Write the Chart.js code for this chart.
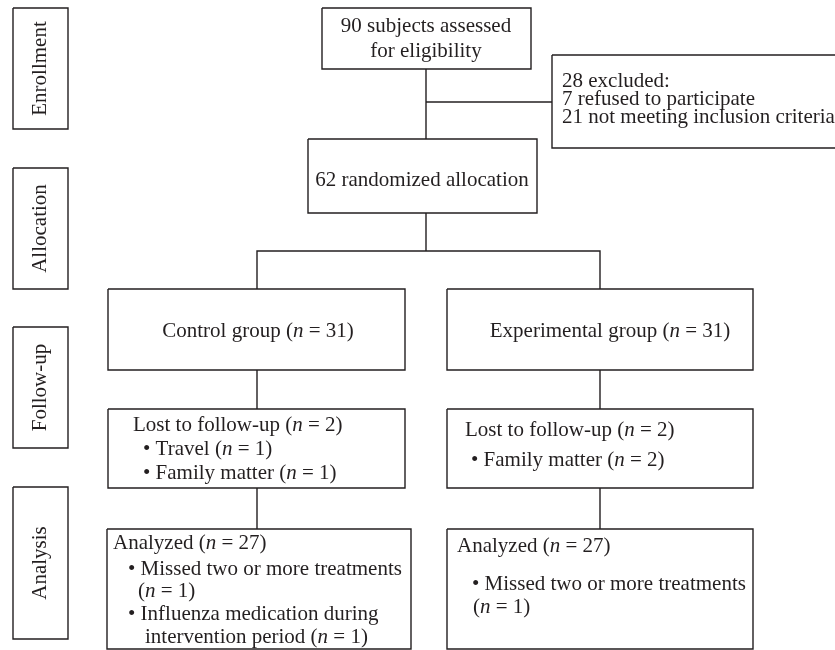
<!DOCTYPE html>
<html>
<head>
<meta charset="utf-8">
<script src="https://cdn.jsdelivr.net/npm/chart.js@4"></script>
<style>
  html, body { margin: 0; padding: 0; background: #fff; }
  #wrap { width: 835px; height: 650px; }
</style>
</head>
<body>
<div id="wrap"><canvas id="flow" width="835" height="650"></canvas></div>
<script>
// CONSORT flow: stage labels, box texts and counts
const stages = ['Enrollment', 'Allocation', 'Follow-up', 'Analysis'];
const stageSpans = [[8, 129], [168, 289], [327, 448], [487, 639]];

const enrolled = 90;
const excludedTotal = 28, refused = 7, notMeeting = 21;
const randomized = 62;
const groupNames = ['Control group', 'Experimental group'];
const groupN = [31, 31];
const lostN = [2, 2];
const analyzedN = [27, 27];

// box text (_n_ = italic)
const boxTexts = [
  [enrolled + ' subjects assessed', 'for eligibility'],
  [excludedTotal + ' excluded:', refused + ' refused to participate', notMeeting + ' not meeting inclusion criteria'],
  [randomized + ' randomized allocation'],
  [groupNames[0] + ' (_n_ = ' + groupN[0] + ')'],
  [groupNames[1] + ' (_n_ = ' + groupN[1] + ')'],
  ['Lost to follow-up (_n_ = ' + lostN[0] + ')', '\u2022 Travel (_n_ = 1)', '\u2022 Family matter (_n_ = 1)'],
  ['Lost to follow-up (_n_ = ' + lostN[1] + ')', '\u2022 Family matter (_n_ = 2)'],
  ['Analyzed (_n_ = ' + analyzedN[0] + ')', '\u2022 Missed two or more treatments', '(_n_ = 1)', '\u2022 Influenza medication during', 'intervention period (_n_ = 1)'],
  ['Analyzed (_n_ = ' + analyzedN[1] + ')', '\u2022 Missed two or more treatments', '(_n_ = 1)']
];

// layout (chart units, y downwards)
const boxRects = [
  [322, 8, 531, 69], [552, 55, 860, 148], [308, 139, 537, 213],
  [108, 289, 405, 370], [447, 289, 753, 370],
  [108, 409, 405, 488], [447, 409, 753, 488],
  [107, 529, 411, 649], [447, 529, 753, 649]
];
// text anchor per box: [align, x, line ys, indents]
const textPos = [
  ['center', 426, [26, 51]],
  ['left', 562, [81, 99, 117]],
  ['center', 422, [180]],
  ['center', 258, [331]],
  ['center', 610, [331]],
  ['left', 133, [425, 449, 473], [0, 10, 10]],
  ['left', 465, [430, 460], [0, 6]],
  ['left', 113, [543, 569, 591, 614, 637], [0, 15, 25, 15, 32]],
  ['left', 457, [546, 584, 607], [0, 15, 16]]
];
const connectors = [
  [[426, 69], [426, 139]],
  [[426, 102], [552, 102]],
  [[426, 213], [426, 251]],
  [[257, 289], [257, 251], [600, 251], [600, 289]],
  [[257, 370], [257, 409]],
  [[600, 370], [600, 409]],
  [[257, 488], [257, 529]],
  [[600, 488], [600, 529]]
];
const stageX = [13, 68];

const INK = '#231f20';
const FONT = '"Liberation Serif", "Times New Roman", serif';
const FS = 21;

function rectPts(r) {
  return [{ x: r[0], y: r[1] }, { x: r[2], y: r[1] }, { x: r[2], y: r[3] }, { x: r[0], y: r[3] }, { x: r[0], y: r[1] }];
}
const lineDs = (pts) => ({
  data: pts, showLine: true, pointRadius: 0, borderColor: INK, borderWidth: 1.4,
  fill: false, tension: 0
});

const datasets = [];
boxRects.forEach(r => datasets.push(lineDs(rectPts(r))));
stageSpans.forEach(s => datasets.push(lineDs(rectPts([stageX[0], s[0], stageX[1], s[1]]))));
connectors.forEach(c => datasets.push(lineDs(c.map(p => ({ x: p[0], y: p[1] })))));

function richParts(str) {
  return str.split('_').map((t, i) => ({ t, it: i % 2 === 1 })).filter(p => p.t.length);
}
function drawRich(ctx, str, x, y, align) {
  const parts = richParts(str);
  let w = 0;
  parts.forEach(p => { ctx.font = (p.it ? 'italic ' : '') + FS + 'px ' + FONT; p.w = ctx.measureText(p.t).width; w += p.w; });
  let cx = align === 'center' ? x - w / 2 : x;
  parts.forEach(p => {
    ctx.font = (p.it ? 'italic ' : '') + FS + 'px ' + FONT;
    ctx.fillText(p.t, cx, y);
    cx += p.w;
  });
}

const textPlugin = {
  id: 'flowText',
  afterDatasetsDraw(chart) {
    const { ctx, scales: { x, y } } = chart;
    ctx.save();
    ctx.fillStyle = INK;
    ctx.textBaseline = 'middle';
    ctx.textAlign = 'left';
    boxTexts.forEach((lines, i) => {
      const [align, tx, ys, indents] = textPos[i];
      lines.forEach((ln, j) => {
        const dx = indents ? indents[j] : 0;
        drawRich(ctx, ln, x.getPixelForValue(tx + dx), y.getPixelForValue(ys[j]), align);
      });
    });
    // rotated stage labels
    stages.forEach((s, i) => {
      const cx = x.getPixelForValue((stageX[0] + stageX[1]) / 2);
      const cy = y.getPixelForValue((stageSpans[i][0] + stageSpans[i][1]) / 2);
      ctx.save();
      ctx.translate(cx, cy);
      ctx.rotate(-Math.PI / 2);
      ctx.textAlign = 'center';
      ctx.font = FS + 'px ' + FONT;
      ctx.fillText(s, 0, 0);
      ctx.restore();
    });
    ctx.restore();
  }
};

new Chart(document.getElementById('flow'), {
  type: 'scatter',
  data: { datasets },
  options: {
    responsive: false,
    animation: false,
    devicePixelRatio: 1,
    layout: { padding: 0 },
    plugins: { legend: { display: false }, tooltip: { enabled: false } },
    scales: {
      x: { type: 'linear', min: 0, max: 835, display: false },
      y: { type: 'linear', min: 0, max: 650, reverse: true, display: false }
    }
  },
  plugins: [textPlugin]
});
</script>
</body>
</html>
